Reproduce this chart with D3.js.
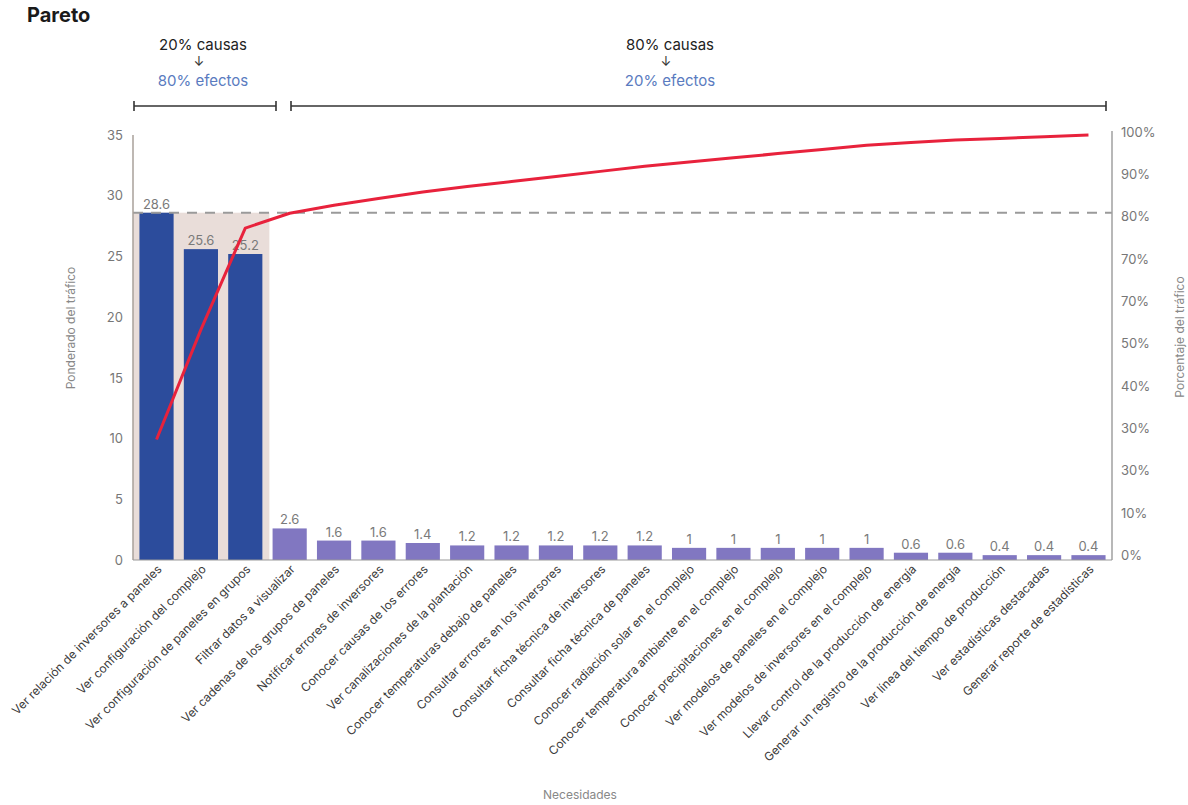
<!DOCTYPE html>
<html><head><meta charset="utf-8">
<script src="https://cdn.jsdelivr.net/npm/d3@7"></script>
<style>
body{margin:0;background:#fff;}
svg text{font-family:Inter,"Liberation Sans",Arial,sans-serif;}
</style></head>
<body>
<svg id="c" width="1188" height="805"></svg>
<script>
const categories = [
  "Ver relación de inversores a paneles",
  "Ver configuración del complejo",
  "Ver configuración de paneles en grupos",
  "Filtrar datos a visualizar",
  "Ver cadenas de los grupos de paneles",
  "Notificar errores de inversores",
  "Conocer causas de los errores",
  "Ver canalizaciones de la plantación",
  "Conocer temperaturas debajo de paneles",
  "Consultar errores en los inversores",
  "Consultar ficha técnica de inversores",
  "Consultar ficha técnica de paneles",
  "Conocer radiación solar en el complejo",
  "Conocer temperatura ambiente en el complejo",
  "Conocer precipitaciones en el complejo",
  "Ver modelos de paneles en el complejo",
  "Ver modelos de inversores en el complejo",
  "Llevar control de la producción de energía",
  "Generar un registro de la producción de energía",
  "Ver línea del tiempo de producción",
  "Ver estadísticas destacadas",
  "Generar reporte de estadísticas"
];
const values = [28.6,25.6,25.2,2.6,1.6,1.6,1.4,1.2,1.2,1.2,1.2,1.2,1,1,1,1,1,0.6,0.6,0.4,0.4,0.4];
const valueLabels = ["28.6","25.6","25.2","2.6","1.6","1.6","1.4","1.2","1.2","1.2","1.2","1.2","1","1","1","1","1","0.6","0.6","0.4","0.4","0.4"];
const cumulativePct = [28.0,54.0,78.0,81.5,83.4,85.0,86.5,87.8,89.0,90.2,91.4,92.6,93.6,94.6,95.6,96.6,97.6,98.2,98.8,99.2,99.6,100];
const leftTicks = [0,5,10,15,20,25,30,35];
const rightTickValues = [0,10,20,30,40,50,60,70,80,90,100];
const rightTickLabels = ["0%","10%","30%","30%","40%","50%","70%","70%","80%","90%","100%"];
const highlightCount = 3;
const thresholdValue = 28.6;

const svg = d3.select("#c");
const x = d3.scaleBand().domain(categories).range([135,1110]).paddingInner(0.23).paddingOuter(0.1);
const yL = d3.scaleLinear().domain([0,35]).range([560,135]);
const yR = d3.scaleLinear().domain([0,100]).range([558,135]);
const axisX0 = 133, axisX1 = 1112;

// title
svg.append("text").attr("x",27).attr("y",22).attr("font-size",20).attr("font-weight",700).attr("fill","#1a1a1a").text("Pareto");

// highlight region
const hlRight = x(categories[highlightCount-1]) + x.bandwidth() + 7;
svg.append("rect").attr("x",axisX0).attr("y",yL(thresholdValue)).attr("width",hlRight-axisX0)
  .attr("height",yL(0)-yL(thresholdValue)).attr("fill","#e9ddd9");

// bars
svg.selectAll("rect.bar").data(values).join("rect").attr("class","bar")
  .attr("x",(d,i)=>x(categories[i])).attr("width",x.bandwidth())
  .attr("y",d=>yL(d)).attr("height",d=>yL(0)-yL(d))
  .attr("fill",(d,i)=>i<highlightCount?"#2c4c9c":"#8177c1");

// value labels
svg.selectAll("text.val").data(values).join("text").attr("class","val")
  .attr("x",(d,i)=>x(categories[i])+x.bandwidth()/2).attr("y",d=>yL(d)-4)
  .attr("text-anchor","middle").attr("font-size",13).attr("fill","#7a7a7a")
  .text((d,i)=>valueLabels[i]);

// dashed threshold line
svg.append("line").attr("x1",axisX0).attr("x2",axisX1).attr("y1",yL(thresholdValue)).attr("y2",yL(thresholdValue))
  .attr("stroke","#9a9a9a").attr("stroke-width",2).attr("stroke-dasharray","10,8");

// axes lines
svg.append("line").attr("x1",axisX0).attr("x2",axisX0).attr("y1",yL(35)).attr("y2",yL(0)).attr("stroke","#a9a09a").attr("stroke-width",1.5);
svg.append("line").attr("x1",axisX1).attr("x2",axisX1).attr("y1",yR(100)-4).attr("y2",yL(0)).attr("stroke","#a0a0a0").attr("stroke-width",1.5);
svg.append("line").attr("x1",axisX0).attr("x2",axisX1).attr("y1",yL(0)).attr("y2",yL(0)).attr("stroke","#999").attr("stroke-width",1);

// left axis via d3.axisLeft
const gL = svg.append("g").attr("transform",`translate(${axisX0},0)`)
  .call(d3.axisLeft(yL).tickValues(leftTicks).tickSize(0).tickPadding(10));
gL.select(".domain").remove();
gL.selectAll("text").attr("font-size",13).attr("fill","#777").attr("font-family","Inter,Arial,sans-serif");

// right axis
const gR = svg.append("g").attr("transform",`translate(${axisX1},0)`)
  .call(d3.axisRight(yR).tickValues(rightTickValues).tickSize(0).tickPadding(9).tickFormat((d,i)=>rightTickLabels[i]));
gR.select(".domain").remove();
gR.selectAll("text").attr("font-size",13).attr("fill","#777").attr("font-family","Inter,Arial,sans-serif").attr("dy","0.1em");

// cumulative line
const line = d3.line().x((d,i)=>x(categories[i])+x.bandwidth()/2).y(d=>yR(d));
svg.append("path").datum(cumulativePct).attr("d",line).attr("fill","none")
  .attr("stroke","#e8223c").attr("stroke-width",3).attr("stroke-linejoin","round");

// x labels
svg.selectAll("text.xl").data(categories).join("text").attr("class","xl")
  .attr("transform",d=>`translate(${x(d)+x.bandwidth()/2+6},${yL(0)+10}) rotate(-45)`)
  .attr("text-anchor","end").attr("font-size",12).attr("fill","#3a3a3a").text(d=>d);

// axis titles
svg.append("text").attr("transform","translate(75,328) rotate(-90)").attr("text-anchor","middle")
  .attr("font-size",12).attr("fill","#888").text("Ponderado del tráfico");
svg.append("text").attr("transform","translate(1184,337) rotate(-90)").attr("text-anchor","middle")
  .attr("font-size",12).attr("fill","#888").text("Porcentaje del tráfico");
svg.append("text").attr("x",580).attr("y",799).attr("text-anchor","middle")
  .attr("font-size",12).attr("fill","#888").text("Necesidades");

// top annotations
function bracket(x1,x2){
  const g = svg.append("g").attr("stroke","#333").attr("stroke-width",1.6);
  g.append("line").attr("x1",x1).attr("x2",x2).attr("y1",106).attr("y2",106);
  g.append("line").attr("x1",x1).attr("x2",x1).attr("y1",101).attr("y2",111);
  g.append("line").attr("x1",x2).attr("x2",x2).attr("y1",101).attr("y2",111);
}
bracket(134,276);
bracket(291,1106);
function note(cx,t1,t2){
  svg.append("text").attr("x",cx).attr("y",50).attr("text-anchor","middle").attr("font-size",15).attr("fill","#222").text(t1);
  svg.append("text").attr("x",cx-4).attr("y",66).attr("text-anchor","middle").attr("font-size",13).attr("fill","#333").text("↓");
  svg.append("text").attr("x",cx).attr("y",86).attr("text-anchor","middle").attr("font-size",15).attr("fill","#5a7bc0").text(t2);
}
note(203,"20% causas","80% efectos");
note(670,"80% causas","20% efectos");
</script>
</body></html>
